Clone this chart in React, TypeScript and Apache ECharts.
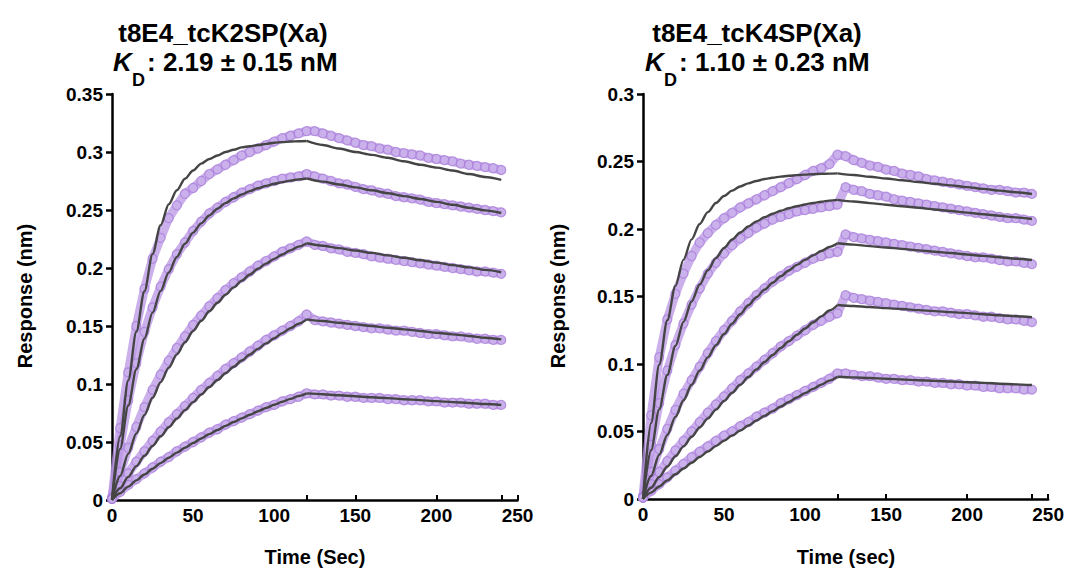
import React, { useEffect, useRef } from "react";
import * as echarts from "echarts";

// ---- time grids (s) ----
const dataTime = [0,5,10,15,20,25,30,35,40,45,50,55,60,65,70,75,80,85,90,95,100,105,110,115,120,125,130,135,140,145,150,155,160,165,170,175,180,185,190,195,200,205,210,215,220,225,230,235,240];
const fitAssocTime = [0,5,10,15,20,25,30,35,40,45,50,55,60,65,70,75,80,85,90,95,100,105,110,115,120];
const fitDissTime = [120,130,140,150,160,170,180,190,200,210,220,230,240];

// ---- axis ticks ----
const xTicks = [0, 50, 100, 150, 200, 250];
const xSmallTicks = [120, 150, 200, 240, 250];
const leftYMax = 0.35;
const rightYMax = 0.3;

// ---- titles ----
const leftTitle = "t8E4_tcK2SP(Xa)";
const leftKd = ": 2.19 ± 0.15 nM";
const rightTitle = "t8E4_tcK4SP(Xa)";
const rightKd = ": 1.10 ± 0.23 nM";
const yName = "Response (nm)";
const leftXName = "Time (Sec)";
const rightXName = "Time (sec)";

// ---- left panel: measured responses (nm) ----
const leftData1 = [0.002,0.062,0.110,0.150,0.182,0.208,0.226,0.243,0.254,0.264,0.269,0.275,0.281,0.285,0.289,0.293,0.297,0.300,0.303,0.306,0.309,0.312,0.314,0.316,0.318,
  0.318,0.316,0.314,0.312,0.310,0.308,0.306,0.305,0.303,0.302,0.300,0.299,0.298,0.297,0.295,0.294,0.293,0.292,0.290,0.289,0.288,0.287,0.286,0.2845];
const leftData2 = [0.001,0.047,0.086,0.118,0.145,0.166,0.184,0.199,0.212,0.222,0.232,0.240,0.247,0.252,0.257,0.261,0.265,0.268,0.271,0.273,0.275,0.277,0.278,0.279,0.281,
  0.279,0.277,0.275,0.273,0.272,0.270,0.268,0.267,0.265,0.264,0.262,0.261,0.260,0.259,0.257,0.256,0.255,0.254,0.253,0.252,0.251,0.250,0.249,0.248];
const leftData3 = [0.001,0.024,0.045,0.063,0.080,0.095,0.108,0.120,0.131,0.141,0.151,0.159,0.167,0.174,0.181,0.187,0.192,0.197,0.202,0.206,0.210,0.214,0.217,0.220,0.223,
  0.220,0.219,0.217,0.216,0.214,0.213,0.212,0.210,0.209,0.208,0.207,0.206,0.205,0.204,0.203,0.202,0.201,0.200,0.199,0.198,0.197,0.197,0.196,0.195];
const leftData4 = [0.001,0.012,0.023,0.033,0.042,0.051,0.059,0.067,0.074,0.081,0.088,0.095,0.101,0.107,0.113,0.118,0.123,0.128,0.133,0.138,0.142,0.146,0.150,0.154,0.160,
  0.155,0.154,0.153,0.152,0.151,0.150,0.149,0.148,0.148,0.147,0.146,0.146,0.145,0.144,0.143,0.143,0.142,0.141,0.141,0.140,0.139,0.139,0.138,0.138];
const leftData5 = [0.001,0.007,0.013,0.018,0.023,0.028,0.033,0.037,0.042,0.046,0.050,0.054,0.058,0.061,0.065,0.068,0.071,0.074,0.077,0.080,0.082,0.085,0.087,0.089,0.092,
  0.091,0.091,0.090,0.090,0.089,0.089,0.088,0.088,0.088,0.087,0.087,0.086,0.086,0.086,0.085,0.085,0.084,0.084,0.084,0.083,0.083,0.083,0.082,0.082];

// ---- left panel: fitted curves ----
const leftFitA1 = [0,0.055,0.103,0.145,0.180,0.212,0.237,0.255,0.267,0.277,0.284,0.290,0.294,0.297,0.300,0.302,0.304,0.305,0.306,0.307,0.308,0.3085,0.309,0.3093,0.3095];
const leftFitD1 = [0.3095,0.306,0.303,0.300,0.2975,0.295,0.292,0.289,0.2865,0.284,0.281,0.2785,0.276];
const leftFitA2 = [0,0.0441,0.0813,0.1127,0.1391,0.1615,0.1803,0.1962,0.2096,0.2209,0.2305,0.2385,0.2453,0.2511,0.2559,0.2600,0.2634,0.2663,0.2688,0.2708,0.2726,0.2740,0.2753,0.2764,0.2772];
const leftFitD2 = [0.2772,0.2745,0.272,0.2695,0.267,0.2645,0.262,0.2595,0.257,0.2545,0.252,0.2497,0.2474];
const leftFitA3 = [0,0.0207,0.0398,0.0573,0.0733,0.0881,0.1016,0.1141,0.1255,0.1360,0.1457,0.1545,0.1627,0.1701,0.1770,0.1833,0.1891,0.1944,0.1993,0.2038,0.2079,0.2117,0.2152,0.2184,0.2213];
const leftFitD3 = [0.2213,0.2192,0.2171,0.2151,0.213,0.2109,0.2088,0.2067,0.2046,0.2025,0.2005,0.1984,0.1963];
const leftFitA4 = [0,0.0101,0.0199,0.0292,0.0381,0.0466,0.0549,0.0627,0.0702,0.0775,0.0844,0.0910,0.0974,0.1034,0.1093,0.1149,0.1202,0.1254,0.1303,0.1350,0.1395,0.1439,0.1480,0.1520,0.1557];
const leftFitD4 = [0.1557,0.1543,0.1528,0.1514,0.15,0.1485,0.1471,0.1457,0.1442,0.1428,0.1414,0.1399,0.1385];
const leftFitA5 = [0,0.0058,0.0115,0.0169,0.0220,0.0270,0.0318,0.0364,0.0408,0.0450,0.0491,0.0530,0.0568,0.0604,0.0639,0.0672,0.0704,0.0735,0.0765,0.0793,0.0821,0.0847,0.0872,0.0896,0.0919];
const leftFitD5 = [0.0919,0.0912,0.0903,0.0895,0.0886,0.0878,0.0869,0.0861,0.0852,0.0844,0.0836,0.0827,0.0819];

// ---- right panel: measured responses (nm) ----
const rightData1 = [0.002,0.062,0.105,0.133,0.152,0.167,0.180,0.190,0.197,0.203,0.208,0.212,0.216,0.219,0.222,0.225,0.228,0.231,0.234,0.237,0.240,0.243,0.245,0.248,0.255,
  0.254,0.251,0.249,0.247,0.246,0.244,0.243,0.241,0.240,0.239,0.237,0.236,0.235,0.234,0.233,0.232,0.231,0.230,0.229,0.229,0.228,0.227,0.227,0.226];
const rightData2 = [0.001,0.040,0.071,0.095,0.114,0.130,0.144,0.156,0.167,0.175,0.182,0.188,0.193,0.197,0.201,0.204,0.207,0.209,0.211,0.213,0.214,0.215,0.216,0.217,0.218,
  0.231,0.229,0.228,0.226,0.225,0.224,0.222,0.221,0.220,0.219,0.218,0.217,0.216,0.215,0.214,0.213,0.212,0.211,0.210,0.209,0.208,0.208,0.207,0.206];
const rightData3 = [0.001,0.020,0.037,0.052,0.066,0.078,0.088,0.098,0.108,0.117,0.125,0.132,0.139,0.145,0.151,0.156,0.161,0.165,0.169,0.172,0.175,0.178,0.180,0.182,0.183,
  0.196,0.194,0.193,0.192,0.191,0.190,0.189,0.188,0.187,0.186,0.185,0.184,0.183,0.182,0.181,0.180,0.179,0.179,0.178,0.177,0.176,0.176,0.175,0.174];
const rightData4 = [0.001,0.011,0.020,0.028,0.036,0.043,0.050,0.057,0.064,0.070,0.076,0.082,0.088,0.093,0.098,0.103,0.108,0.113,0.117,0.121,0.125,0.129,0.132,0.135,0.1375,
  0.151,0.149,0.148,0.147,0.146,0.145,0.144,0.143,0.142,0.141,0.140,0.139,0.139,0.138,0.137,0.137,0.136,0.135,0.135,0.134,0.133,0.133,0.132,0.131];
const rightData5 = [0.001,0.006,0.011,0.016,0.021,0.026,0.031,0.035,0.039,0.043,0.047,0.050,0.054,0.057,0.061,0.064,0.067,0.071,0.074,0.077,0.080,0.083,0.086,0.089,0.093,
  0.093,0.092,0.091,0.091,0.090,0.089,0.089,0.088,0.088,0.087,0.087,0.086,0.086,0.085,0.085,0.084,0.084,0.083,0.083,0.082,0.082,0.082,0.081,0.081];

// ---- right panel: fitted curves ----
const rightFitA1 = [0,0.0563,0.0994,0.1324,0.1578,0.1773,0.1923,0.2037,0.2125,0.2193,0.2244,0.2284,0.2315,0.2338,0.2356,0.2370,0.2380,0.2388,0.2394,0.2399,0.2403,0.2406,0.2408,0.2410,0.2412];
const rightFitD1 = [0.2412,0.2400,0.2387,0.2374,0.2361,0.2348,0.2335,0.2323,0.2310,0.2297,0.2284,0.2272,0.2259];
const rightFitA2 = [0,0.0361,0.0664,0.0919,0.1133,0.1312,0.1463,0.1589,0.1695,0.1784,0.1859,0.1922,0.1974,0.2019,0.2056,0.2087,0.2113,0.2135,0.2154,0.2169,0.2182,0.2193,0.2202,0.2210,0.2216];
const rightFitD2 = [0.2216,0.2204,0.2192,0.2180,0.2168,0.2157,0.2145,0.2133,0.2121,0.2109,0.2098,0.2086,0.2074];
const rightFitA3 = [0,0.0171,0.0328,0.0474,0.0608,0.0732,0.0846,0.0952,0.1049,0.1139,0.1222,0.1299,0.1369,0.1435,0.1495,0.1551,0.1602,0.1650,0.1693,0.1734,0.1771,0.1805,0.1837,0.1867,0.1894];
const rightFitD3 = [0.1894,0.1884,0.1873,0.1863,0.1853,0.1842,0.1832,0.1822,0.1811,0.1801,0.1791,0.1780,0.1770];
const rightFitA4 = [0,0.0083,0.0163,0.0241,0.0317,0.0390,0.0461,0.0530,0.0597,0.0662,0.0726,0.0787,0.0846,0.0904,0.0960,0.1015,0.1067,0.1119,0.1168,0.1217,0.1263,0.1309,0.1353,0.1396,0.1437];
const rightFitD4 = [0.1437,0.1430,0.1422,0.1414,0.1407,0.1399,0.1392,0.1384,0.1377,0.1369,0.1361,0.1354,0.1346];
const rightFitA5 = [0,0.0047,0.0093,0.0138,0.0183,0.0226,0.0269,0.0311,0.0352,0.0392,0.0431,0.0470,0.0507,0.0544,0.0581,0.0616,0.0651,0.0685,0.0719,0.0752,0.0784,0.0816,0.0847,0.0877,0.0906];
const rightFitD5 = [0.0906,0.0901,0.0896,0.0891,0.0885,0.0880,0.0875,0.0870,0.0865,0.0860,0.0854,0.0849,0.0844];

const FONT = "'Liberation Sans', Arial, Helvetica, sans-serif";
const FIT_COLOR = "#454545";

const pair = (xs: number[], ys: number[]) => ys.map((y, i) => [xs[i], y]);

function buildSeries(panel: number, data: number[][], fitA: number[][], fitD: number[][]) {
  const out: any[] = [];
  data.forEach((d, i) => {
    out.push({
      type: "line",
      name: `data${panel}-${i}`,
      xAxisIndex: panel,
      yAxisIndex: panel,
      data: pair(dataTime, d),
      symbol: "circle",
      symbolSize: 9,
      showSymbol: true,
      z: 2,
      lineStyle: { width: 9, color: "rgba(186,150,228,0.75)", cap: "round", join: "round" },
      itemStyle: { color: "rgba(205,180,238,0.45)", borderColor: "rgba(168,124,218,0.75)", borderWidth: 1.2 },
      emphasis: { disabled: true },
      silent: true,
    });
  });
  const fitLine = (xs: number[], f: number[], key: string) => ({
    type: "line",
    name: key,
    xAxisIndex: panel,
    yAxisIndex: panel,
    data: pair(xs, f),
    smooth: 0.3,
    smoothMonotone: "x",
    showSymbol: false,
    z: 5,
    lineStyle: { width: 2.4, color: FIT_COLOR },
    silent: true,
  });
  fitA.forEach((f, i) => out.push(fitLine(fitAssocTime, f, `fitA${panel}-${i}`)));
  fitD.forEach((f, i) => out.push(fitLine(fitDissTime, f, `fitD${panel}-${i}`)));
  return out;
}

function xAxis(gridIndex: number) {
  return {
    type: "value",
    gridIndex,
    min: 0,
    max: 250,
    interval: 50,
    axisLine: { show: true, onZero: false, lineStyle: { color: "#000", width: 2.5 } },
    axisTick: { show: true, inside: true, length: 5, customValues: xSmallTicks, lineStyle: { color: "#000", width: 2 } },
    axisLabel: { color: "#000", fontSize: 19, fontWeight: "bold", fontFamily: FONT, margin: 6, customValues: xTicks },
    splitLine: { show: false },
  };
}

function yAxis(gridIndex: number, max: number) {
  return {
    type: "value",
    gridIndex,
    min: 0,
    max,
    interval: 0.05,
    axisLine: { show: true, onZero: false, lineStyle: { color: "#000", width: 2.5 } },
    axisTick: { show: true, length: 6, lineStyle: { color: "#000", width: 2.5 } },
    axisLabel: { color: "#000", fontSize: 19, fontWeight: "bold", fontFamily: FONT, margin: 9 },
    splitLine: { show: false },
  };
}

function titleGraphics(cx: number, kx: number, title: string, kd: string) {
  return [
    { type: "text", x: cx, y: 33, style: { text: title, font: `bold 26px ${FONT}`, fill: "#000", align: "center", verticalAlign: "middle" } },
    { type: "text", x: kx, y: 62, style: { text: "K", font: `italic bold 26px ${FONT}`, fill: "#000", align: "left", verticalAlign: "middle" } },
    { type: "text", x: kx + 19, y: 80, style: { text: "D", font: `bold 18px ${FONT}`, fill: "#000", align: "left", verticalAlign: "middle" } },
    { type: "text", x: kx + 34, y: 62, style: { text: kd, font: `bold 26px ${FONT}`, fill: "#000", align: "left", verticalAlign: "middle" } },
  ];
}

export default function App() {
  const ref = useRef<HTMLDivElement>(null);
  useEffect(() => {
    if (!ref.current) return;
    const chart = echarts.init(ref.current, null, { renderer: "svg" });
    const option: any = {
      animation: false,
      backgroundColor: "#fff",
      grid: [
        { left: 112, top: 94, width: 405.5, height: 406 },
        { left: 643, top: 94, width: 406, height: 405 },
      ],
      xAxis: [xAxis(0), xAxis(1)],
      yAxis: [yAxis(0, leftYMax), yAxis(1, rightYMax)],
      series: [
        ...buildSeries(0,
          [leftData1, leftData2, leftData3, leftData4, leftData5],
          [leftFitA1, leftFitA2, leftFitA3, leftFitA4, leftFitA5],
          [leftFitD1, leftFitD2, leftFitD3, leftFitD4, leftFitD5]),
        ...buildSeries(1,
          [rightData1, rightData2, rightData3, rightData4, rightData5],
          [rightFitA1, rightFitA2, rightFitA3, rightFitA4, rightFitA5],
          [rightFitD1, rightFitD2, rightFitD3, rightFitD4, rightFitD5]),
      ],
      graphic: [
        ...titleGraphics(223, 113, leftTitle, leftKd),
        ...titleGraphics(757, 645, rightTitle, rightKd),
        { type: "text", x: 25, y: 296, rotation: Math.PI / 2, style: { text: yName, font: `bold 20px ${FONT}`, fill: "#000", align: "center", verticalAlign: "middle" } },
        { type: "text", x: 558, y: 296, rotation: Math.PI / 2, style: { text: yName, font: `bold 20px ${FONT}`, fill: "#000", align: "center", verticalAlign: "middle" } },
        { type: "text", x: 315, y: 557, style: { text: leftXName, font: `bold 20px ${FONT}`, fill: "#000", align: "center", verticalAlign: "middle" } },
        { type: "text", x: 846, y: 557, style: { text: rightXName, font: `bold 20px ${FONT}`, fill: "#000", align: "center", verticalAlign: "middle" } },
      ],
    };
    chart.setOption(option);
    return () => chart.dispose();
  }, []);
  return (
    <div
      ref={ref}
      style={{ position: "fixed", left: 0, top: 0, width: 1067, height: 568, background: "#fff" }}
    />
  );
}
